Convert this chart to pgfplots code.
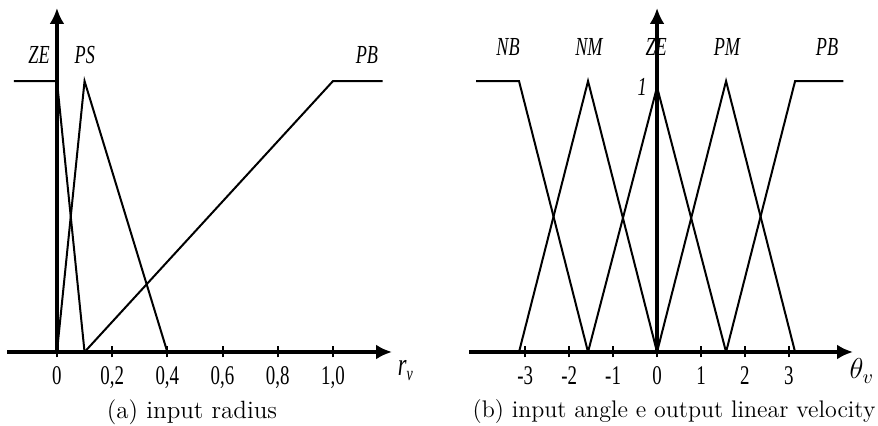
\documentclass[border=0pt]{standalone}
\usepackage{pgfplots}
\pgfplotsset{compat=1.18}
\usepackage{fontspec}
\usetikzlibrary{arrows.meta}
\newfontfamily\tnr[FakeStretch=0.7]{Liberation Serif}
\newcommand{\lbl}{\tnr\itshape\fontsize{13}{14}\selectfont}
\begin{document}
\begin{tikzpicture}
\useasboundingbox (0pt,0pt) rectangle (439pt,213pt);
\pgfplotsset{
  ml/.style={black, line width=1pt, mark=none},
  fz/.style={
    anchor=south west, scale only axis, clip=false,
    ymin=0, ymax=1.27,
    axis lines=middle,
    axis line style={line width=2pt, -{Latex[length=8pt,width=7.5pt]}},
    ytick=\empty,
    hide obscured x ticks=false,
    major tick length=5.5pt,
    tick style={line width=1pt, black},
    tick align=center,
    /pgf/number format/assume math mode=true,
    xticklabel style={font=\tnr\fontsize{13.5}{14}\selectfont, yshift=-1pt},
  }
}
% (a) input radius
\begin{axis}[fz, at={(3.5pt,37pt)}, width=192.5pt, height=172pt,
  xmin=-0.181, xmax=1.214,
  xtick={0,0.2,0.4,0.6,0.8,1.0},
  xticklabels={0,{0,2},{0,4},{0,6},{0,8},{1,0}}]
\addplot[ml] coordinates {(-0.156,1) (0,1) (0.1,0)};
\addplot[ml] coordinates {(0,0) (0.1,1) (0.4,0)};
\addplot[ml] coordinates {(0.1,0) (1.0,1) (1.18,1)};
\node[font=\lbl] at (axis cs:-0.065,1.096) {ZE};
\node[font=\lbl] at (axis cs:0.101,1.096) {PS};
\node[font=\lbl] at (axis cs:1.123,1.096) {PB};
\node[font=\tnr\itshape\fontsize{16}{16}\selectfont] at (axis cs:1.262,-0.07) {r\raisebox{-0.35ex}{\fontsize{10}{10}\selectfont v}};
\end{axis}
% (b) input angle
\begin{axis}[fz, at={(234.5pt,37pt)}, width=192pt, height=172pt,
  xmin=-4.28, xmax=4.46,
  xtick={-3,-2,-1,0,1,2,3},
  xticklabels={-3,-2,-1,0,1,2,3}]
\addplot[ml] coordinates {(-4.12,1) (-3.1416,1) (-1.5708,0)};
\addplot[ml] coordinates {(-3.1416,0) (-1.5708,1) (0,0)};
\addplot[ml] coordinates {(-1.5708,0) (0,0.978) (1.5708,0)};
\addplot[ml] coordinates {(0,0) (1.5708,1) (3.1416,0)};
\addplot[ml] coordinates {(1.5708,0) (3.1416,1) (4.24,1)};
\node[font=\lbl] at (axis cs:-3.39,1.125) {NB};
\node[font=\lbl] at (axis cs:-1.55,1.125) {NM};
\node[font=\lbl] at (axis cs:-0.02,1.125) {ZE};
\node[font=\lbl] at (axis cs:1.59,1.125) {PM};
\node[font=\lbl] at (axis cs:3.87,1.125) {PB};
\node[font=\lbl] at (axis cs:-0.34,0.978) {1};
\node[font=\fontsize{14}{14}\selectfont] at (axis cs:4.66,-0.07) {$\theta_v$};
\end{axis}
\node[font=\fontsize{12.5}{15}\selectfont] at (96pt,7pt) {(a) input radius};
\node[font=\fontsize{12}{15}\selectfont] at (337pt,7pt) {(b) input angle e output linear velocity};
\end{tikzpicture}
\end{document}
